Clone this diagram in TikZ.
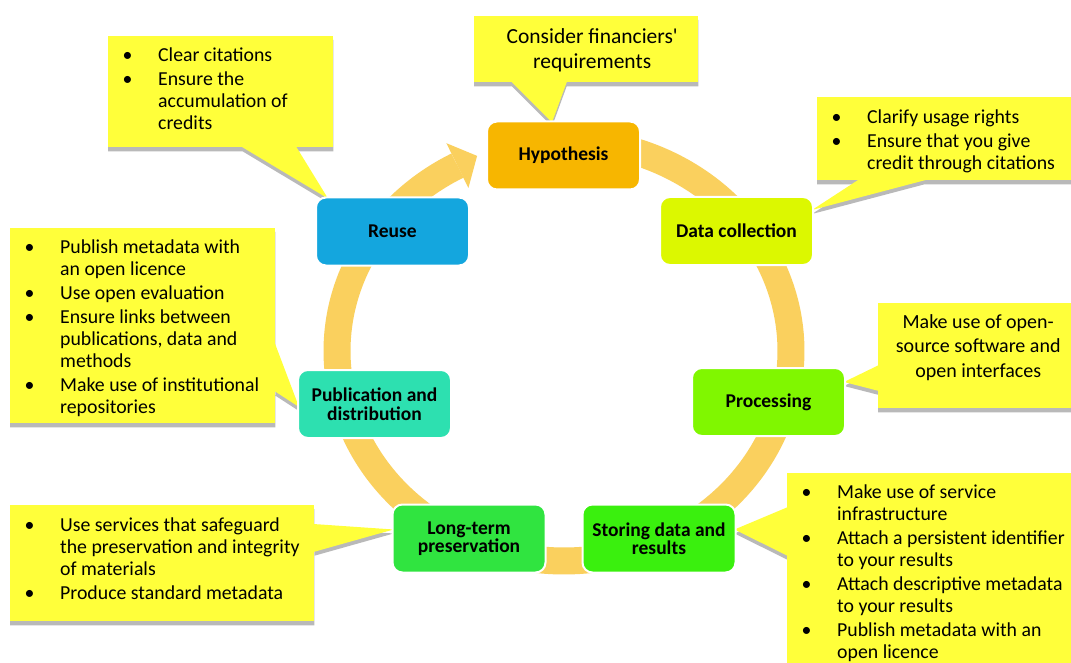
\documentclass[tikz,border=0pt]{standalone}
\usepackage{fontspec}
\setmainfont{Carlito}
\usetikzlibrary{calc}
\pgfdeclarelayer{ringl}
\pgfdeclarelayer{shadl}
\pgfdeclarelayer{calll}
\pgfsetlayers{ringl,shadl,calll,main}
\definecolor{ringc}{RGB}{250,208,94}
\definecolor{calloutc}{RGB}{255,255,58}
\definecolor{shadc}{RGB}{185,185,185}
\definecolor{hypc}{RGB}{247,182,0}
\definecolor{datac}{RGB}{220,248,0}
\definecolor{procc}{RGB}{128,247,0}
\definecolor{storc}{RGB}{58,240,14}
\definecolor{longc}{RGB}{48,228,64}
\definecolor{pubc}{RGB}{45,224,176}
\definecolor{reusec}{RGB}{20,166,222}
\newcommand{\bulfont}{\fontsize{19.8}{21.8}\selectfont\parskip=2.5pt\rightskip=0pt plus 1fil\relax}
\newcommand{\bul}[1]{\par\hangindent=50pt\hangafter=1\noindent\hspace*{14.5pt}\makebox[35.5pt][l]{\textbullet}\strut#1}
\begin{document}
\begin{tikzpicture}[x=1pt,y=-1pt,
  stepbox/.style={rectangle, rounded corners=10pt, draw=white, line width=2pt,
    minimum width=153pt, minimum height=68pt, inner sep=2pt, align=center,
    font=\bfseries\fontsize{19.5}{18.5}\selectfont},
  callout/.style={fill=calloutc, inner sep=0pt, anchor=north west},
  ring/.style={draw=ringc, line width=27pt},
  shadow/.style={fill=shadc, transform canvas={yshift=-4pt}}]

\useasboundingbox (0,0) rectangle (1071,663);

% process steps
\node[stepbox, fill=hypc]   (hyp)   at (563.5,155.5) {Hypothesis};
\node[stepbox, fill=datac]  (data)  at (736.5,231)   {Data collection};
\node[stepbox, fill=procc]  (proc)  at (768.5,402)   {Processing};
\node[stepbox, fill=storc]  (stor)  at (659,538.5)   {Storing data and\\results};
\node[stepbox, fill=longc]  (long)  at (469,538.5)   {Long-term\\preservation};
\node[stepbox, fill=pubc]   (pub)   at (374.5,404)   {Publication and\\distribution};
\node[stepbox, fill=reusec] (reuse) at (392.5,231.5) {Reuse};

% ring
\begin{pgfonlayer}{ringl}
\fill[white] (0,0) rectangle (1071,663);
\draw[ring] plot[smooth, domain=-95:242, samples=120] ({564+227*cos(\x)},{351+210*sin(\x)});
\fill[ringc] (446.4,143.2) -- (477.1,155.9) -- (468.4,188) -- cycle;
\end{pgfonlayer}

% callouts
\begin{pgfonlayer}{calll}
\node[callout] (cReuse) at (108,36) {\parbox[c][111pt][t]{225pt}{\bulfont\vspace*{7.5pt}%
  \bul{Clear citations}\bul{Ensure the\\accumulation of\\credits}}};
\node[callout] (cHyp) at (474,16) {\parbox[c][66pt][t]{224pt}{\fontsize{21.5}{25}\selectfont\centering\leftskip=12pt plus 1fil\vspace*{9.5pt}%
  \strut Consider financiers\textquotesingle\\requirements}};
\node[callout] (cData) at (817,97) {\parbox[c][83pt][t]{262pt}{\bulfont\vspace*{8.5pt}%
  \bul{Clarify usage rights}\bul{Ensure that you give\\credit through citations}}};
\node[callout] (cProc) at (878,303) {\parbox[c][105pt][t]{200pt}{\fontsize{20}{24.5}\selectfont\centering\vspace*{7.85pt}%
  \strut Make use of open-\\source software and\\open interfaces}};
\node[callout] (cPub) at (10,228) {\parbox[c][195pt][t]{265pt}{\bulfont\vspace*{7.5pt}%
  \bul{Publish metadata with\\an open licence}\bul{Use open evaluation}\bul{Ensure links between\\publications, data and\\methods}\bul{Make use of institutional\\repositories}}};
\node[callout] (cLong) at (10,505) {\parbox[c][116pt][t]{304pt}{\bulfont\vspace*{8.5pt}%
  \bul{Use services that safeguard\\the preservation and integrity\\of materials}\bul{Produce standard metadata}}};
\node[callout] (cStor) at (787,473) {\parbox[c][200pt][t]{290pt}{\bulfont\vspace*{7.5pt}%
  \bul{Make use of service\\infrastructure}\bul{Attach a persistent identifier\\to your results}\bul{Attach descriptive metadata\\to your results}\bul{Publish metadata with an\\open licence}}};

% pointers
\coordinate (tReuse) at ($(reuse.north west)+(13,2)$);
\coordinate (tHyp)   at ($(hyp.north west)+(66,2)$);
\coordinate (tData)  at ($(data.north east)+(-2,14)$);
\coordinate (tProc)  at ($(proc.north east)+(-2,15)$);
\coordinate (tPub)   at ($(pub.north west)+(2,38)$);
\coordinate (tLong)  at ($(long.north west)+(2,26)$);
\coordinate (tStor)  at ($(stor.north east)+(-2,26)$);

\fill[calloutc] ($(cReuse.south west)+(133,-1)$) -- (tReuse) -- ($(cReuse.south west)+(188,-1)$) -- cycle;
\fill[calloutc] ($(cHyp.south west)+(37,-1)$) -- (tHyp) -- ($(cHyp.south west)+(93,-1)$) -- cycle;
\fill[calloutc] ($(cData.south west)+(42,-1)$) -- (tData) -- ($(cData.south west)+(111,-1)$) -- cycle;
\fill[calloutc] ($(cProc.north west)+(1,62)$) -- (tProc) -- ($(cProc.north west)+(1,88)$) -- cycle;
\fill[calloutc] ($(cPub.north east)+(-1,114)$) -- (tPub) -- ($(cPub.north east)+(-1,163)$) -- cycle;
\fill[calloutc] ($(cLong.north east)+(-1,19)$) -- (tLong) -- ($(cLong.north east)+(-1,47)$) -- cycle;
\fill[calloutc] ($(cStor.north west)+(1,34)$) -- (tStor) -- ($(cStor.north west)+(1,83)$) -- cycle;
\end{pgfonlayer}

% shadows
\begin{pgfonlayer}{shadl}
\fill[shadow] (cReuse.north west) rectangle (cReuse.south east) ($(cReuse.south west)+(133,-1)$) -- (tReuse) -- ($(cReuse.south west)+(188,-1)$) -- cycle;
\fill[shadow] (cHyp.north west) rectangle (cHyp.south east) ($(cHyp.south west)+(37,-1)$) -- (tHyp) -- ($(cHyp.south west)+(93,-1)$) -- cycle;
\fill[shadow] (cData.north west) rectangle (cData.south east) ($(cData.south west)+(42,-1)$) -- (tData) -- ($(cData.south west)+(111,-1)$) -- cycle;
\fill[shadow] (cProc.north west) rectangle (cProc.south east) ($(cProc.north west)+(1,62)$) -- (tProc) -- ($(cProc.north west)+(1,88)$) -- cycle;
\fill[shadow] (cPub.north west) rectangle (cPub.south east) ($(cPub.north east)+(-1,114)$) -- (tPub) -- ($(cPub.north east)+(-1,163)$) -- cycle;
\fill[shadow] (cLong.north west) rectangle (cLong.south east) ($(cLong.north east)+(-1,19)$) -- (tLong) -- ($(cLong.north east)+(-1,47)$) -- cycle;
\fill[shadow] (cStor.north west) rectangle (cStor.south east) ($(cStor.north west)+(1,34)$) -- (tStor) -- ($(cStor.north west)+(1,83)$) -- cycle;
\end{pgfonlayer}
\end{tikzpicture}
\end{document}
